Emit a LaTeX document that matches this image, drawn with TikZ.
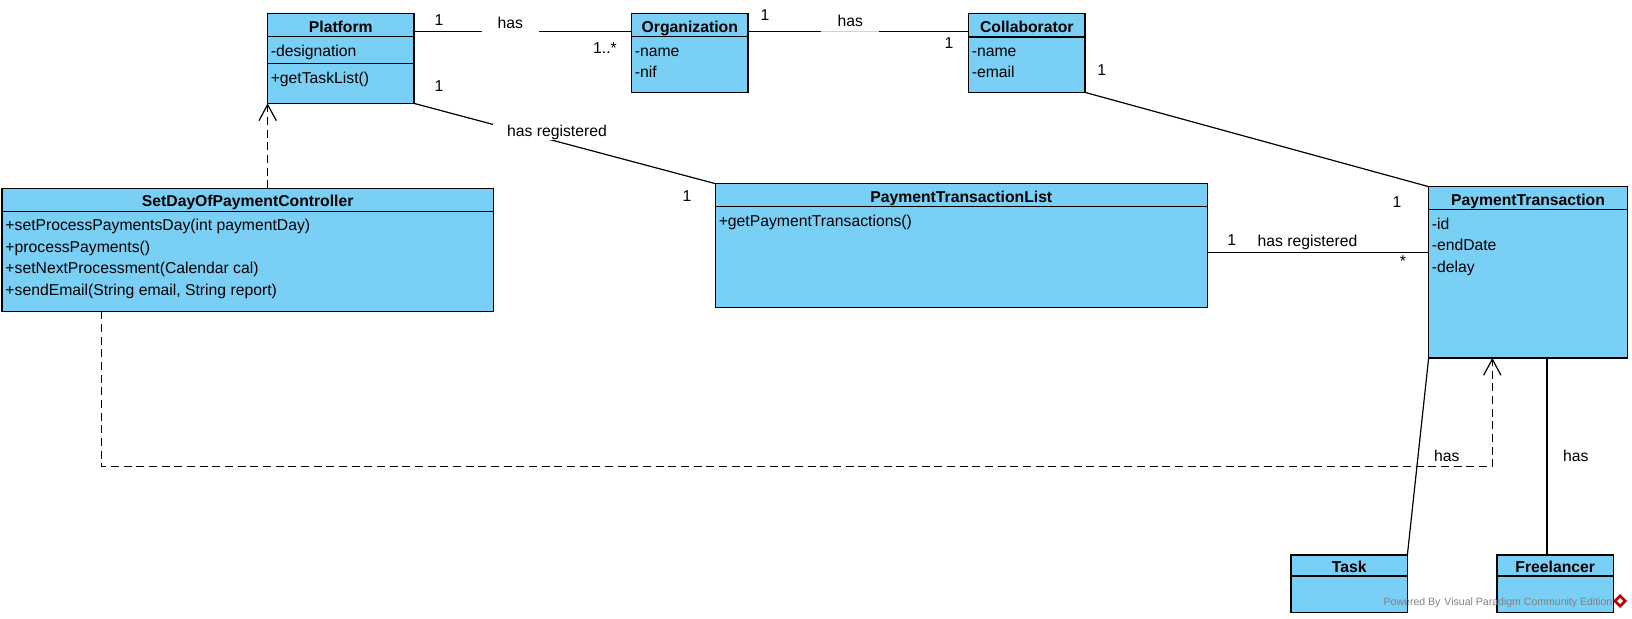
\documentclass[tikz,border=0pt]{standalone}
\usepackage{fontspec}
\setmainfont{Liberation Sans}
\usetikzlibrary{fit,arrows.meta}
\definecolor{clsfill}{HTML}{7ACFF5}
\begin{document}
\begin{tikzpicture}[x=0.75pt,y=-0.75pt,
  classbox/.style={draw=black, fill=clsfill, line width=1pt, inner sep=0pt},
  sepline/.style={draw=black, line width=1pt},
  hdr/.style={font=\fontsize{11.8}{14}\selectfont\bfseries, anchor=base, inner sep=0pt},
  mem/.style={font=\fontsize{11.8}{14}\selectfont, anchor=base west, inner sep=0pt},
  lbl/.style={font=\fontsize{11.8}{14}\selectfont, anchor=base, inner sep=0pt},
  wlbl/.style={lbl, fill=white, text height=10.5pt, text depth=3.9pt},
  assoc/.style={draw=black, line width=0.9pt},
  dep/.style={draw=black, line width=0.9pt, dash pattern=on 6pt off 3.5pt,
    -{Straight Barb[length=12pt,width=13pt,line width=0.9pt]}},
]
\useasboundingbox (0,0) rectangle (1632,618);

% ---------- class boxes ----------
\node[classbox, fit={(268.3,14.3) (413.3,102.7)}] (plat) {};
\node[classbox, fit={(632.3,14.3) (747.3,91.7)}] (org) {};
\node[classbox, fit={(969.3,14.3) (1084.3,91.7)}] (collab) {};
\node[classbox, fit={(2.7,189) (492.7,310.7)}] (ctrl) {};
\node[classbox, fit={(716,184.3) (1206.7,306.7)}] (ptl) {};
\node[classbox, fit={(1429.3,187.3) (1626.7,357.3)}] (pt) {};
\node[classbox, fit={(1291.7,555.7) (1406.7,611.7)}] (task) {};
\node[classbox, fit={(1497.7,555.7) (1612.7,611.7)}] (free) {};

% ---------- connectors ----------
\draw[assoc] (plat.east |- 0,31.7) -- (org.west |- 0,31.7);
\draw[assoc] (org.east |- 0,31.7) -- (collab.west |- 0,31.7);
\draw[assoc] (plat.south east) -- (ptl.north west);
\draw[assoc] (collab.south east) -- (pt.north west);
\draw[assoc] (ptl.east |- 0,252.3) -- (pt.west |- 0,252.3);
\draw[assoc] (pt.south west) -- (task.north east);
\coordinate (fx) at (1547,0);
\draw[assoc] (pt.south -| fx) -- (free.north -| fx);

\draw[dep] (ctrl.north -| plat.south west) -- (plat.south west);
\coordinate (d2a) at (101.7,466.7);
\coordinate (d2b) at (1492.3,466.7);
\draw[dep] (ctrl.south -| d2a) -- (d2a) -- (d2b) -- (pt.south -| d2b);

% ---------- redraw boxes on top ----------
\foreach \n in {plat,org,collab,ctrl,ptl,pt,task,free}
  \draw[classbox, fill=clsfill] (\n.south west) rectangle (\n.north east);

% separators
\draw[sepline] (plat.west |- 0,36.7) -- (plat.east |- 0,36.7);
\draw[sepline] (plat.west |- 0,63.3) -- (plat.east |- 0,63.3);
\draw[sepline] (org.west |- 0,36.7) -- (org.east |- 0,36.7);
\draw[sepline] (collab.west |- 0,37) -- (collab.east |- 0,37);
\draw[sepline] (ctrl.west |- 0,211.7) -- (ctrl.east |- 0,211.7);
\draw[sepline] (ptl.west |- 0,206.7) -- (ptl.east |- 0,206.7);
\draw[sepline] (pt.west |- 0,209.3) -- (pt.east |- 0,209.3);
\draw[sepline] (task.west |- 0,576) -- (task.east |- 0,576);
\draw[sepline] (free.west |- 0,576) -- (free.east |- 0,576);

% ---------- class texts ----------
\node[hdr] (platT) at (340.8,32.3) {Platform};
\node[mem] (platA) at (270.5,56) {-designation};
\node[mem] (platM) at (270.5,83.5) {+getTaskList()};

\node[hdr] (orgT) at (689.8,32.3) {Organization};
\node[mem] (orgA1) at (634.5,56) {-name};
\node[mem] (orgA2) at (634.5,77.3) {-nif};

\node[hdr] (colT) at (1026.8,32.3) {Collaborator};
\node[mem] (colA1) at (971.5,56) {-name};
\node[mem] (colA2) at (971.5,77.3) {-email};

\node[hdr] (ctrlT) at (247.7,206) {SetDayOfPaymentController};
\node[mem] (ctrlM1) at (5.2,230.7) {+setProcessPaymentsDay(int paymentDay)};
\node[mem] (ctrlM2) at (5.2,252.2) {+processPayments()};
\node[mem] (ctrlM3) at (5.2,273.7) {+setNextProcessment(Calendar cal)};
\node[mem] (ctrlM4) at (5.2,295.2) {+sendEmail(String email, String report)};

\node[hdr] (ptlT) at (961.3,202.3) {PaymentTransactionList};
\node[mem] (ptlM) at (718.5,226.7) {+getPaymentTransactions()};

\node[hdr] (ptT) at (1528,205) {PaymentTransaction};
\node[mem] (ptA1) at (1431.5,229.3) {-id};
\node[mem] (ptA2) at (1431.5,250.8) {-endDate};
\node[mem] (ptA3) at (1431.5,272.3) {-delay};

\node[hdr] (taskT) at (1349.2,572.3) {Task};
\node[hdr] (freeT) at (1555.2,572.3) {Freelancer};

% ---------- association labels ----------
\node[wlbl, minimum width=43pt] (l1) at (510.3,28.3) {has};
\node[wlbl, minimum width=43pt] (l2) at (850.3,26.7) {has};
\draw[gray!35, line width=0.9pt] (l2.west |- 0,31.7) -- (l2.east |- 0,31.7);
\node[wlbl, minimum width=96pt, text depth=3.2pt] (l3) at (557,136) {has registered};
\node[lbl] (l4) at (1307.5,246.7) {has registered};
\node[lbl] (l5) at (1446.7,461.7) {has};
\node[lbl] (l6) at (1575.8,461.7) {has};

% ---------- multiplicities ----------
\node[lbl] (m1) at (439,25) {1};
\node[lbl] (m2) at (605,53.3) {1..*};
\node[lbl] (m3) at (439,91.7) {1};
\node[lbl] (m4) at (687,201.4) {1};
\node[lbl] (m5) at (765,20) {1};
\node[lbl] (m6) at (949,48.3) {1};
\node[lbl] (m7) at (1101.7,75) {1};
\node[lbl] (m8) at (1397,207.7) {1};
\node[lbl] (m9) at (1231.7,245) {1};
\node[lbl, anchor=center] (m10) at (1403,260.7) {*};

% ---------- watermark ----------
\node[font=\fontsize{7.9}{9}\selectfont, text=black!50, anchor=base, inner sep=0pt] (wm) at (1498,605) {Powered By\hspace{3pt}Visual Paradigm Community Edition};
\fill[red!75!black] (1620,594) -- (1627,601) -- (1620,608) -- (1613,601) -- cycle;
\fill[white] (1620,598) -- (1623,601) -- (1620,604) -- (1617,601) -- cycle;
\end{tikzpicture}
\end{document}
